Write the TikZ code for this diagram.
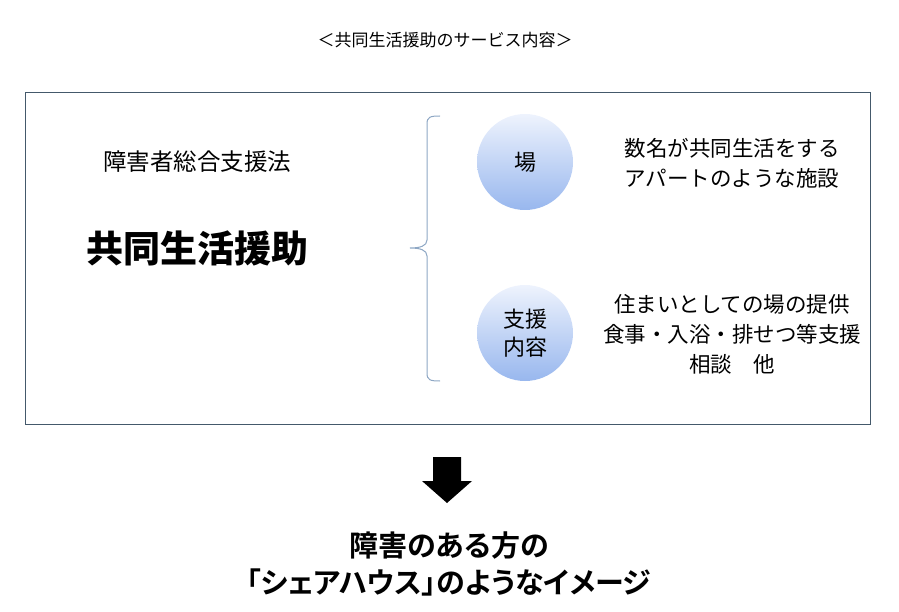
\documentclass[tikz,border=0pt]{standalone}
\usepackage{fontspec}
\usepackage{tikz}
\setmainfont{Noto Sans CJK JP}
\newfontfamily\jpbold[RawFeature={+palt}]{Noto Sans CJK JP Bold}
\definecolor{framecol}{HTML}{44596B}
\definecolor{bracecol}{HTML}{8EA7C4}
\definecolor{balltop}{HTML}{EEF3FD}
\definecolor{ballbot}{HTML}{98B7EE}

\begin{document}
\begin{tikzpicture}[x=1pt, y=-1pt]
  \tikzstyle{ball}=[circle, minimum size=96pt, inner sep=0pt, align=center,
    top color=balltop, bottom color=ballbot, font=\fontsize{22}{28}\selectfont]
  \tikzstyle{note}=[align=center, font=\fontsize{21.5}{30}\selectfont]
  \useasboundingbox (0,0) rectangle (899,612);

  \node[font=\fontsize{17}{19}\selectfont] (title) at (445,40) {＜共同生活援助のサービス内容＞};
  \draw[framecol, line width=0.8pt] (25,92) rectangle (870,424);

  \node[font=\fontsize{23.5}{27}\selectfont] (law) at (197,162) {障害者総合支援法};
  \node[font=\fontsize{37}{42}\selectfont\bfseries] (service) at (197,248) {共同生活援助};

  % brace
  \draw[bracecol, line width=1pt] (440,116) .. controls (430,116) and (427,117) .. (427,124)
    -- (427,240) .. controls (427,246) and (420,248) .. (410,248)
    .. controls (420,248) and (427,250) .. (427,256)
    -- (427,373) .. controls (427,380) and (430,381) .. (440,381);

  \node[ball] (place) at (525,162) {場};
  \node[ball] (support) at (525,333) {支援\\内容};

  \node[note] (placetext) at (732,163) {数名が共同生活をする\\アパートのような施設};
  \node[note] (supporttext) at (732,334) {住まいとしての場の提供\\食事・入浴・排せつ等支援\\相談　他};

  % arrow
  \fill[black] (433,457) -- (461,457) -- (461,481) -- (472,481) -- (447,503)
    -- (422,481) -- (433,481) -- cycle;

  \node[align=center, font=\fontsize{29}{37}\selectfont\jpbold] (image) at (449,564)
    {障害のある方の\\「シェアハウス」のようなイメージ};
\end{tikzpicture}
\end{document}
